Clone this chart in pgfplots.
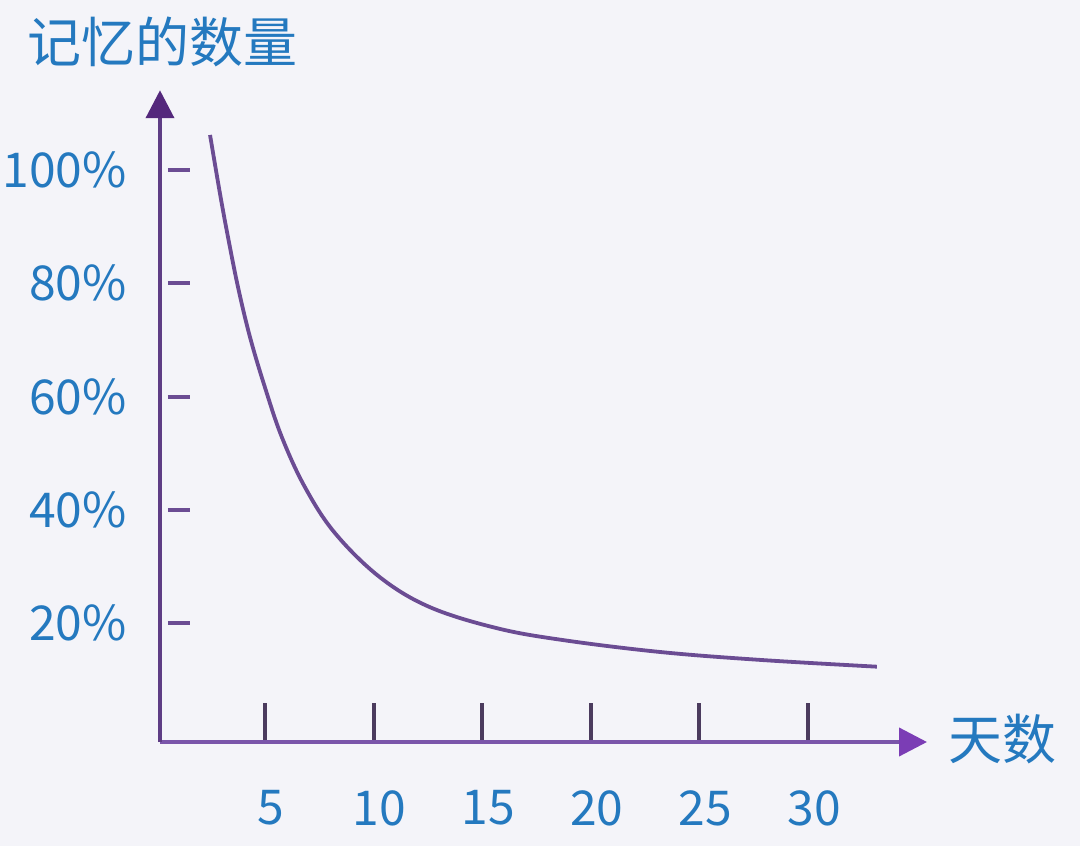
\documentclass[border=0pt]{standalone}
\usepackage{pgfplots}
\pgfplotsset{compat=1.18}
\usepackage{fontspec}
\setmainfont{Noto Sans CJK SC}
\usetikzlibrary{arrows.meta}
\definecolor{bg}{HTML}{F4F4F9}
\definecolor{txt}{HTML}{2479BF}
\definecolor{axx}{HTML}{7A55AA}
\definecolor{axy}{HTML}{5E3D85}
\definecolor{arrx}{HTML}{7B3DB5}
\definecolor{arry}{HTML}{54287C}
\definecolor{crv}{HTML}{6B4C93}
\definecolor{tk}{HTML}{4B3B5E}
\pgfplotstableread{
x y
2.47 106.2
2.93 95.8
3.30 88.1
3.76 79.3
4.31 70.5
5.00 61.6
5.78 52.8
6.84 44.0
8.22 35.9
10.29 28.1
12.60 22.8
15.68 19.1
18.72 17.0
23.18 14.9
27.79 13.5
33.17 12.3
}\curve
\begin{document}
\begin{tikzpicture}
\fill[bg] (-80pt,-52pt) rectangle (460pt,371pt);
\path[use as bounding box] (-80pt,-52pt) rectangle (460pt,371pt);
\begin{axis}[
  at={(0,0)}, anchor=south west,
  x=10.86pt, y=2.83125pt,
  xmin=0.166, xmax=35.48, ymin=-1, ymax=114.1,
  axis lines=left, clip=false,
  x axis line style={line width=2pt, color=axx, -{Triangle[length=14pt,width=14pt,color=arrx]}},
  y axis line style={line width=2pt, color=axy, -{Triangle[length=14pt,width=14pt,color=arry]}},
  xtick={5,10,15,20,25,30},
  xticklabels={5,10,15,20,25,30},
  ytick={20,40,60,80,100},
  yticklabels={20\%,40\%,60\%,80\%,100\%},
  tick align=inside,
  major tick length=11pt,
  xtick style={/pgfplots/major tick length=19.5pt, line width=2pt, color=tk},
  ytick style={line width=2pt, color=crv, xshift=4pt},
  xticklabel style={anchor=center, yshift=-33pt, xshift=3pt, text=txt, inner sep=0pt, font=\fontsize{24}{24}\selectfont},
  yticklabel style={anchor=east, xshift=-16.5pt, text=txt, inner sep=0pt, font=\fontsize{24}{24}\selectfont},
]
\addplot[crv, line width=1.9pt, smooth, tension=0.6, no marks] table {\curve};
\end{axis}
\node[text=txt, font=\fontsize{27}{27}\selectfont, inner sep=0pt] at (1.5pt,350pt) {记忆的数量};
\node[text=txt, font=\fontsize{27}{27}\selectfont, inner sep=0pt] at (421pt,1.5pt) {天数};
\end{tikzpicture}
\end{document}
